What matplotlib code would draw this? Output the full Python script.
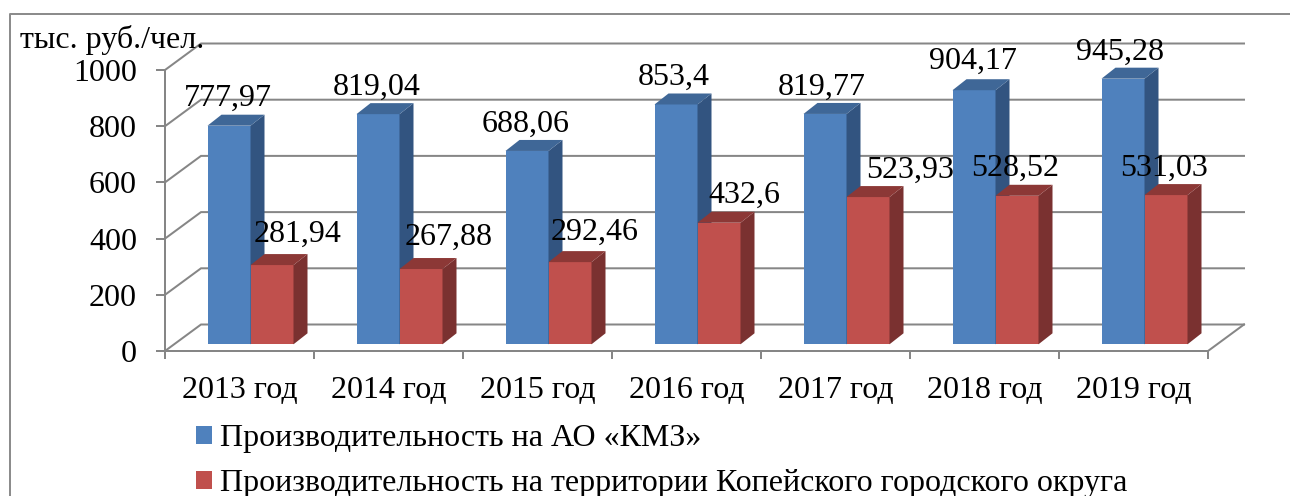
import matplotlib
matplotlib.use("Agg")
import matplotlib.pyplot as plt
from matplotlib.patches import Polygon, Rectangle

years = ["2013 год", "2014 год", "2015 год", "2016 год", "2017 год", "2018 год", "2019 год"]
kmz = [777.97, 819.04, 688.06, 853.4, 819.77, 904.17, 945.28]
kgo = [281.94, 267.88, 292.46, 432.6, 523.93, 528.52, 531.03]
kmz_text = ["777,97", "819,04", "688,06", "853,4", "819,77", "904,17", "945,28"]
kgo_text = ["281,94", "267,88", "292,46", "432,6", "523,93", "528,52", "531,03"]
yticks = [0, 200, 400, 600, 800, 1000]
series_names = ["Производительность на АО «КМЗ»",
                "Производительность на территории Копейского городского округа"]

# label nudges, in pixels from the bar's front top centre
kmz_dx = [-1.5, -1, -1, -2, -3, -1, -3]
kmz_dy = [20, 19, 19, 20, 19, 21, 19]
kgo_dx = [26, 28, 25, 25, 42, -2, -2]
kgo_dy = [23, 24, 22, 20, 19, 20, 19]

W, H = 1290, 496
PX = 72 / 100
plt.rcParams["font.family"] = ["Liberation Serif", "DejaVu Sans"]
FS = 23
GRAY = "#868686"

fig = plt.figure(figsize=(W / 100, H / 100), dpi=100, facecolor="white")
ax = fig.add_axes([165 / W, (H - 351) / H, 1043 / W, 281 / H], facecolor="none")
ax.set_xlim(0, 7)
ax.set_ylim(0, 1000)

ux = 1 / 149          # data units per pixel, x
uy = 1000 / 281       # data units per pixel, y
wall_dx, wall_dy = 36 * ux, 26.5 * uy
plane_dx, plane_dy = 11 * ux, 6.7 * uy
depth_dx, depth_dy = 14 * ux, 11 * uy
bw = 43 * ux

# outer frame
fig.add_artist(plt.Line2D([9.5 / W, 9.5 / W, 1], [0, 1 - 14 / H, 1 - 14 / H], color="#8c8c8c", lw=2 * PX))

# walls
for v in yticks:
    ax.plot([0, wall_dx, 7 + wall_dx], [v, v + wall_dy, v + wall_dy], color=GRAY, lw=2 * PX,
            clip_on=False, zorder=1, solid_joinstyle="miter")
ax.plot([7, 7 + wall_dx], [0, wall_dy], color=GRAY, lw=2 * PX, clip_on=False, zorder=1)

def box(x, v, front, top, side, z):
    y0 = plane_dy
    ax.bar(x, v, width=bw, bottom=y0, align="edge", color=front, edgecolor="none", clip_on=False, zorder=z)
    ax.add_patch(Polygon([(x + bw, y0), (x + bw + depth_dx, y0 + depth_dy),
                          (x + bw + depth_dx, y0 + v + depth_dy), (x + bw, y0 + v)],
                         closed=True, fc=side, ec="none", clip_on=False, zorder=z))
    ax.add_patch(Polygon([(x, y0 + v), (x + depth_dx, y0 + v + depth_dy),
                          (x + bw + depth_dx, y0 + v + depth_dy), (x + bw, y0 + v)],
                         closed=True, fc=top, ec="none", clip_on=False, zorder=z))

for i in range(len(years)):
    x0 = i + 0.5 + plane_dx - bw
    box(x0, kmz[i], "#4F81BD", "#3F6797", "#325480", 3 + i * 0.01)
    box(x0 + bw, kgo[i], "#C0504D", "#8C3836", "#7A3130", 3.005 + i * 0.01)

for i in range(len(years)):
    x0 = i + 0.5 + plane_dx - bw
    ax.annotate(kmz_text[i], (x0 + bw / 2, plane_dy + kmz[i]),
                xytext=(kmz_dx[i] * PX, kmz_dy[i] * PX), textcoords="offset points",
                ha="center", va="baseline", fontsize=FS, color="black", zorder=6, annotation_clip=False)
    ax.annotate(kgo_text[i], (x0 + 1.5 * bw, plane_dy + kgo[i]),
                xytext=(kgo_dx[i] * PX, kgo_dy[i] * PX), textcoords="offset points",
                ha="center", va="baseline", fontsize=FS, color="black", zorder=6, annotation_clip=False)

# axes
for s in ("top", "right"):
    ax.spines[s].set_visible(False)
for s in ("left", "bottom"):
    ax.spines[s].set_color(GRAY)
    ax.spines[s].set_linewidth(2 * PX)
    ax.spines[s].set_zorder(2)
ax.set_yticks(yticks)
ax.set_yticklabels([str(v) for v in yticks], fontsize=FS)
ax.tick_params(axis="y", length=9 * PX, width=2 * PX, color=GRAY, pad=19 * PX)
ax.set_xticks(range(8))
ax.set_xticklabels([])
ax.tick_params(axis="x", which="major", length=8 * PX, width=2 * PX, color=GRAY)
ax.set_xticks([i + 0.5 for i in range(7)], minor=True)
ax.set_xticklabels(years, minor=True, fontsize=FS)
ax.tick_params(axis="x", which="minor", length=0, pad=25 * PX)

fig.text(20 / W, 1 - 48 / H, "тыс. руб./чел.", fontsize=FS, ha="left", va="baseline", color="black")

handles = [Rectangle((0, 0), 1, 1, fc="#4F81BD", ec="none"), Rectangle((0, 0), 1, 1, fc="#C0504D", ec="none")]
fig.legend(handles, series_names, loc="upper left", bbox_to_anchor=(196 / W, 1 - 424 / H),
           frameon=False, fontsize=FS, handlelength=0.5, handleheight=0.5, handletextpad=0.25,
           labelspacing=0.5, borderpad=0, borderaxespad=0)

fig.savefig("out.png", dpi=100, facecolor="white")
